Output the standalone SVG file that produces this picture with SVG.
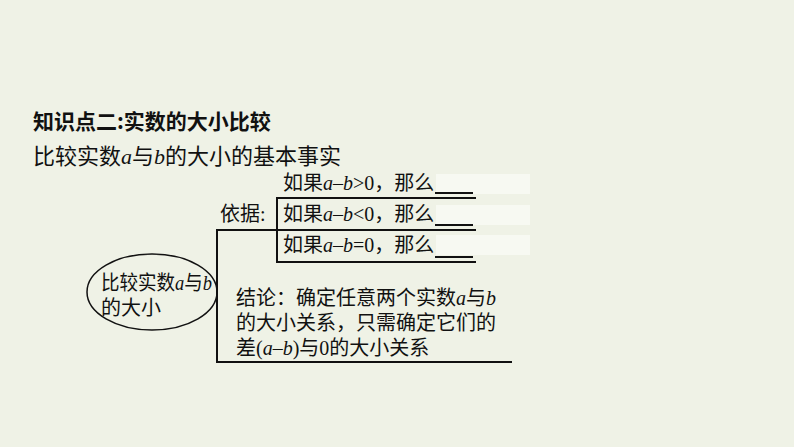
<svg xmlns="http://www.w3.org/2000/svg" width="794" height="447" viewBox="0 0 794 447">
<style>
.t{font-family:"Liberation Serif","Noto Sans CJK SC",serif;font-size:20px;fill:#111}
.i{font-style:italic}
.l{stroke:#111;stroke-width:2;fill:none}
</style>
<rect width="794" height="447" fill="#eff2e6"/>
<text x="33" y="129" style="font-family:'Noto Sans CJK SC',sans-serif;font-size:21px;font-weight:bold;fill:#111">知识点二:实数的大小比较</text>
<text x="33" y="164" class="t" style="font-size:22px">比较实数<tspan class="i">a</tspan>与<tspan class="i">b</tspan>的大小的基本事实</text>
<g id="blanks" fill="#f7f9f2">
<rect x="436" y="174" width="94" height="20"/>
<rect x="436" y="205" width="94" height="20"/>
<rect x="436" y="235" width="94" height="20"/>
</g>
<g id="connectors">
<path class="l" d="M280 230 H217 V362 H512"/>
<path class="l" d="M476 198 H277 V262 H476 M277 230 H476"/>
<path class="l" d="M435 193 H473 M435 225 H473 M435 257 H473"/>
</g>
<g id="root">
<ellipse cx="152" cy="292" rx="65" ry="38" fill="none" stroke="#111" stroke-width="1.5"/>
<text x="101" y="290" class="t" textLength="111" lengthAdjust="spacingAndGlyphs">比较实数<tspan class="i">a</tspan>与<tspan class="i">b</tspan></text>
<text x="101" y="315" class="t">的大小</text>
</g>
<g id="basis">
<text x="220" y="221" class="t">依据:</text>
</g>
<g id="c1"><text x="283" y="190" class="t">如果<tspan class="i">a</tspan>–<tspan class="i">b</tspan>&gt;0，那么</text></g>
<g id="c2"><text x="283" y="221" class="t">如果<tspan class="i">a</tspan>–<tspan class="i">b</tspan>&lt;0，那么</text></g>
<g id="c3"><text x="283" y="252" class="t">如果<tspan class="i">a</tspan>–<tspan class="i">b</tspan>=0，那么</text></g>
<g id="conclusion">
<text x="236" y="305" class="t">结论：确定任意两个实数<tspan class="i">a</tspan>与<tspan class="i">b</tspan></text>
<text x="236" y="330" class="t">的大小关系，只需确定它们的</text>
<text x="236" y="355" class="t">差(<tspan class="i">a</tspan>–<tspan class="i">b</tspan>)与0的大小关系</text>
</g>
</svg>
